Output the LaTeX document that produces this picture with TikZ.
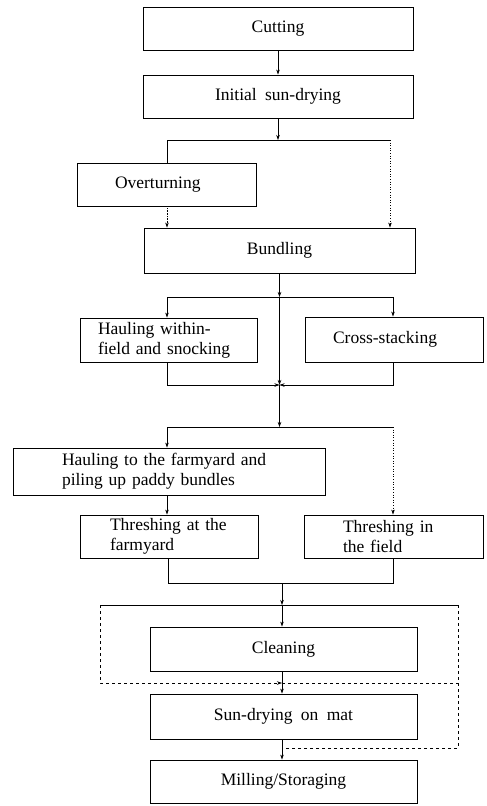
\documentclass[tikz,border=0pt]{standalone}
\usepackage{fontspec}
\setmainfont{Liberation Serif}[WordSpace=1.9]
\usetikzlibrary{arrows.meta}
\begin{document}
\begin{tikzpicture}[x=1pt,y=-1pt,
  box/.style={draw, line width=0.9pt, inner sep=0pt, font=\fontsize{17.5}{20}\selectfont},
  cbox/.style={box, align=center},
  arr/.style={-{Stealth[length=5pt,width=3.5pt]}},
  every path/.style={line width=0.6pt}]
\useasboundingbox (0,0) rectangle (487,806);
% boxes
\node[cbox, minimum width=270, minimum height=43] (cut) at (278,28.5) {Cutting};
\node[cbox, minimum width=270, minimum height=43] (isd) at (278,96.5) {Initial sun-drying};
\node[box, text width=103, inner xsep=38, align=left, minimum height=43] (ovt) at (166.5,184.5) {Overturning};
\node[cbox, minimum width=271, minimum height=45] (bund) at (279.5,250.5) {Bundling};
\node[box, text width=141, inner xsep=18, align=left, minimum height=44] (hw) at (168.5,340) {Hauling within-\\field and snocking};
\node[box, text width=122, inner xsep=28, align=left, minimum height=45] (cs) at (394,339.5) {Cross-stacking};
\node[box, text width=214, inner xsep=49, align=left, minimum height=47] (hf) at (169,471.5) {Hauling to the farmyard and\\piling up paddy bundles};
\node[box, text width=118, inner xsep=30, align=left, minimum height=43] (tf) at (169,536.5) {Threshing at the\\farmyard};
\node[box, text width=101, inner xsep=39, align=left, minimum height=43] (tif) at (393.5,536.5) {Threshing in\\the field};
\node[cbox, minimum width=267, minimum height=44] (clean) at (283.5,649) {Cleaning};
\node[cbox, minimum width=267, minimum height=45] (sdm) at (283.5,716.5) {Sun-drying on mat};
\node[cbox, minimum width=267, minimum height=43] (mill) at (283.5,781.5) {Milling/Storaging};
% junction points
\coordinate (a1) at (278,140);
\coordinate (a1l) at (167,140);
\coordinate (a1r) at (390,140);
\coordinate (a2) at (279.5,297);
\coordinate (a2l) at (167,297);
\coordinate (a2r) at (393,297);
\coordinate (a3) at (279.5,385);
\coordinate (a3l) at (167,385);
\coordinate (a3r) at (393,385);
\coordinate (a4) at (279.5,427);
\coordinate (a4l) at (167,427);
\coordinate (a4r) at (393,427);
\coordinate (a5) at (282,583);
\coordinate (a5l) at (168,583);
\coordinate (a5r) at (393,583);
\coordinate (a6) at (282,605);
\coordinate (a6l) at (100,605);
\coordinate (a6r) at (458,605);
\coordinate (a7) at (282,683);
\coordinate (a7l) at (100,683);
\coordinate (a7r) at (458,683);
\coordinate (a8) at (282,748);
\coordinate (a8r) at (458,748);
% connectors
\draw[arr] (cut.south) -- (isd.north);
\draw[arr] (isd.south) -- (a1);
\draw (a1l) -- (a1r);
\draw (a1l) -- (a1l |- ovt.north);
\draw[densely dotted, arr] (a1l |- ovt.south) -- (a1l |- bund.north);
\draw[dotted, arr] (a1r) -- (a1r |- bund.north);
\draw[arr] (bund.south) -- (a2);
\draw (a2l) -- (a2r);
\draw[arr] (a2l) -- (a2l |- hw.north);
\draw[arr] (a2r) -- (a2r |- cs.north);
\draw[arr] (a2) -- (a3);
\draw[arr] (a3l |- hw.south) -- (a3l) -- (a3);
\draw[arr] (a3r |- cs.south) -- (a3r) -- (a3);
\draw[arr] (a3) -- (a4);
\draw (a4l) -- (a4r);
\draw[arr] (a4l) -- (a4l |- hf.north);
\draw[dotted, arr] (a4r) -- (a4r |- tif.north);
\draw[arr] (a4l |- hf.south) -- (a4l |- tf.north);
\draw (a5l |- tf.south) -- (a5l) -- (a5r) -- (a5r |- tif.south);
\draw[arr] (a5) -- (a6);
\draw[arr] (a6) -- (a6 |- clean.north);
\draw (a6l) -- (a6r);
\draw[dashed, arr] (a6l) -- (a7l) -- (a7);
\draw[dashed] (a7) -- (a7r);
\draw[dashed] (a6r) -- (a8r) -- (a8);
\draw[arr] (a7 |- clean.south) -- (a7 |- sdm.north);
\draw[arr] (a8 |- sdm.south) -- (a8 |- mill.north);
\end{tikzpicture}
\end{document}
